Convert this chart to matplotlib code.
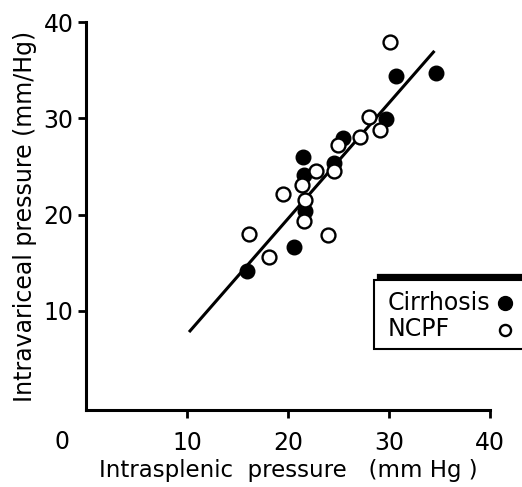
import matplotlib.pyplot as plt
from matplotlib.lines import Line2D
from matplotlib.patches import Rectangle

# Cirrhosis (filled)
cirr_x = [15.9, 20.6, 21.7, 21.5, 21.6, 24.6, 25.4, 29.7, 30.7, 34.7]
cirr_y = [14.1, 16.6, 20.4, 26.0, 24.1, 25.4, 28.0, 29.9, 34.4, 34.7]
# NCPF (open)
ncpf_x = [16.1, 18.1, 19.5, 21.4, 21.7, 21.6, 22.8, 24.0, 24.6, 24.9, 27.1, 28.0, 29.1, 30.1]
ncpf_y = [18.0, 15.6, 22.1, 23.1, 21.5, 19.3, 24.5, 17.9, 24.5, 27.2, 28.1, 30.1, 28.8, 37.9]
# regression line end points
fit_x = [10.2, 34.5]
fit_y = [7.8, 37.0]

ticks = [10, 20, 30, 40]
legend_labels = ['Cirrhosis', 'NCPF']

plt.rcParams['font.family'] = ['DejaVu Sans']
W, H = 522, 487

fig = plt.figure(figsize=(W / 100, H / 100), dpi=100)
ax = fig.add_axes([0.1648, 0.158, 0.9387 - 0.1648, 0.9548 - 0.158])

ax.plot(fit_x, fit_y, color='black', lw=2.2, zorder=2, solid_capstyle='butt')
ax.scatter(cirr_x, cirr_y, s=110, color='black', zorder=3)
ax.scatter(ncpf_x, ncpf_y, s=100, facecolor='white', edgecolor='black', linewidths=1.7, zorder=4)

ax.set_xlim(0, 40)
ax.set_ylim(-0.3, 40)
ax.set_xticks(ticks)
ax.set_yticks(ticks)
ax.tick_params(direction='out', length=6, width=2, labelsize=17, pad=3)
ax.tick_params(axis='x', pad=9)
for s in ['top', 'right']:
    ax.spines[s].set_visible(False)
for s in ['left', 'bottom']:
    ax.spines[s].set_linewidth(2.2)

ax.set_xlabel('Intrasplenic  pressure   (mm Hg )', fontsize=16.5, labelpad=3)
ax.set_ylabel('Intravariceal pressure (mm/Hg)', fontsize=17, labelpad=5)
fig.text(62 / W, 1 - 442 / H, '0', fontsize=17, ha='center', va='center')

# legend box drawn by hand (it runs off the right edge)
fig.add_artist(Rectangle((374 / W, 1 - 349 / H), 170 / W, 69 / H, transform=fig.transFigure,
                         facecolor='white', edgecolor='black', lw=1.5))
fig.add_artist(Line2D([380 / W, 1.0], [1 - 277 / H, 1 - 277 / H], color='black', lw=4.5,
                      transform=fig.transFigure))
ys = [303, 329]
fig.text(388 / W, 1 - ys[0] / H, legend_labels[0], fontsize=17, va='center')
fig.text(388 / W, 1 - ys[1] / H, legend_labels[1], fontsize=17, va='center')
fig.add_artist(Line2D([505 / W], [1 - ys[0] / H], ls='none', marker='o', ms=10, color='black',
                      transform=fig.transFigure))
fig.add_artist(Line2D([505 / W], [1 - (ys[1] + 1) / H], ls='none', marker='o', ms=8, mfc='white',
                      mec='black', mew=1.7, transform=fig.transFigure))

fig.savefig('out.png', dpi=100)
